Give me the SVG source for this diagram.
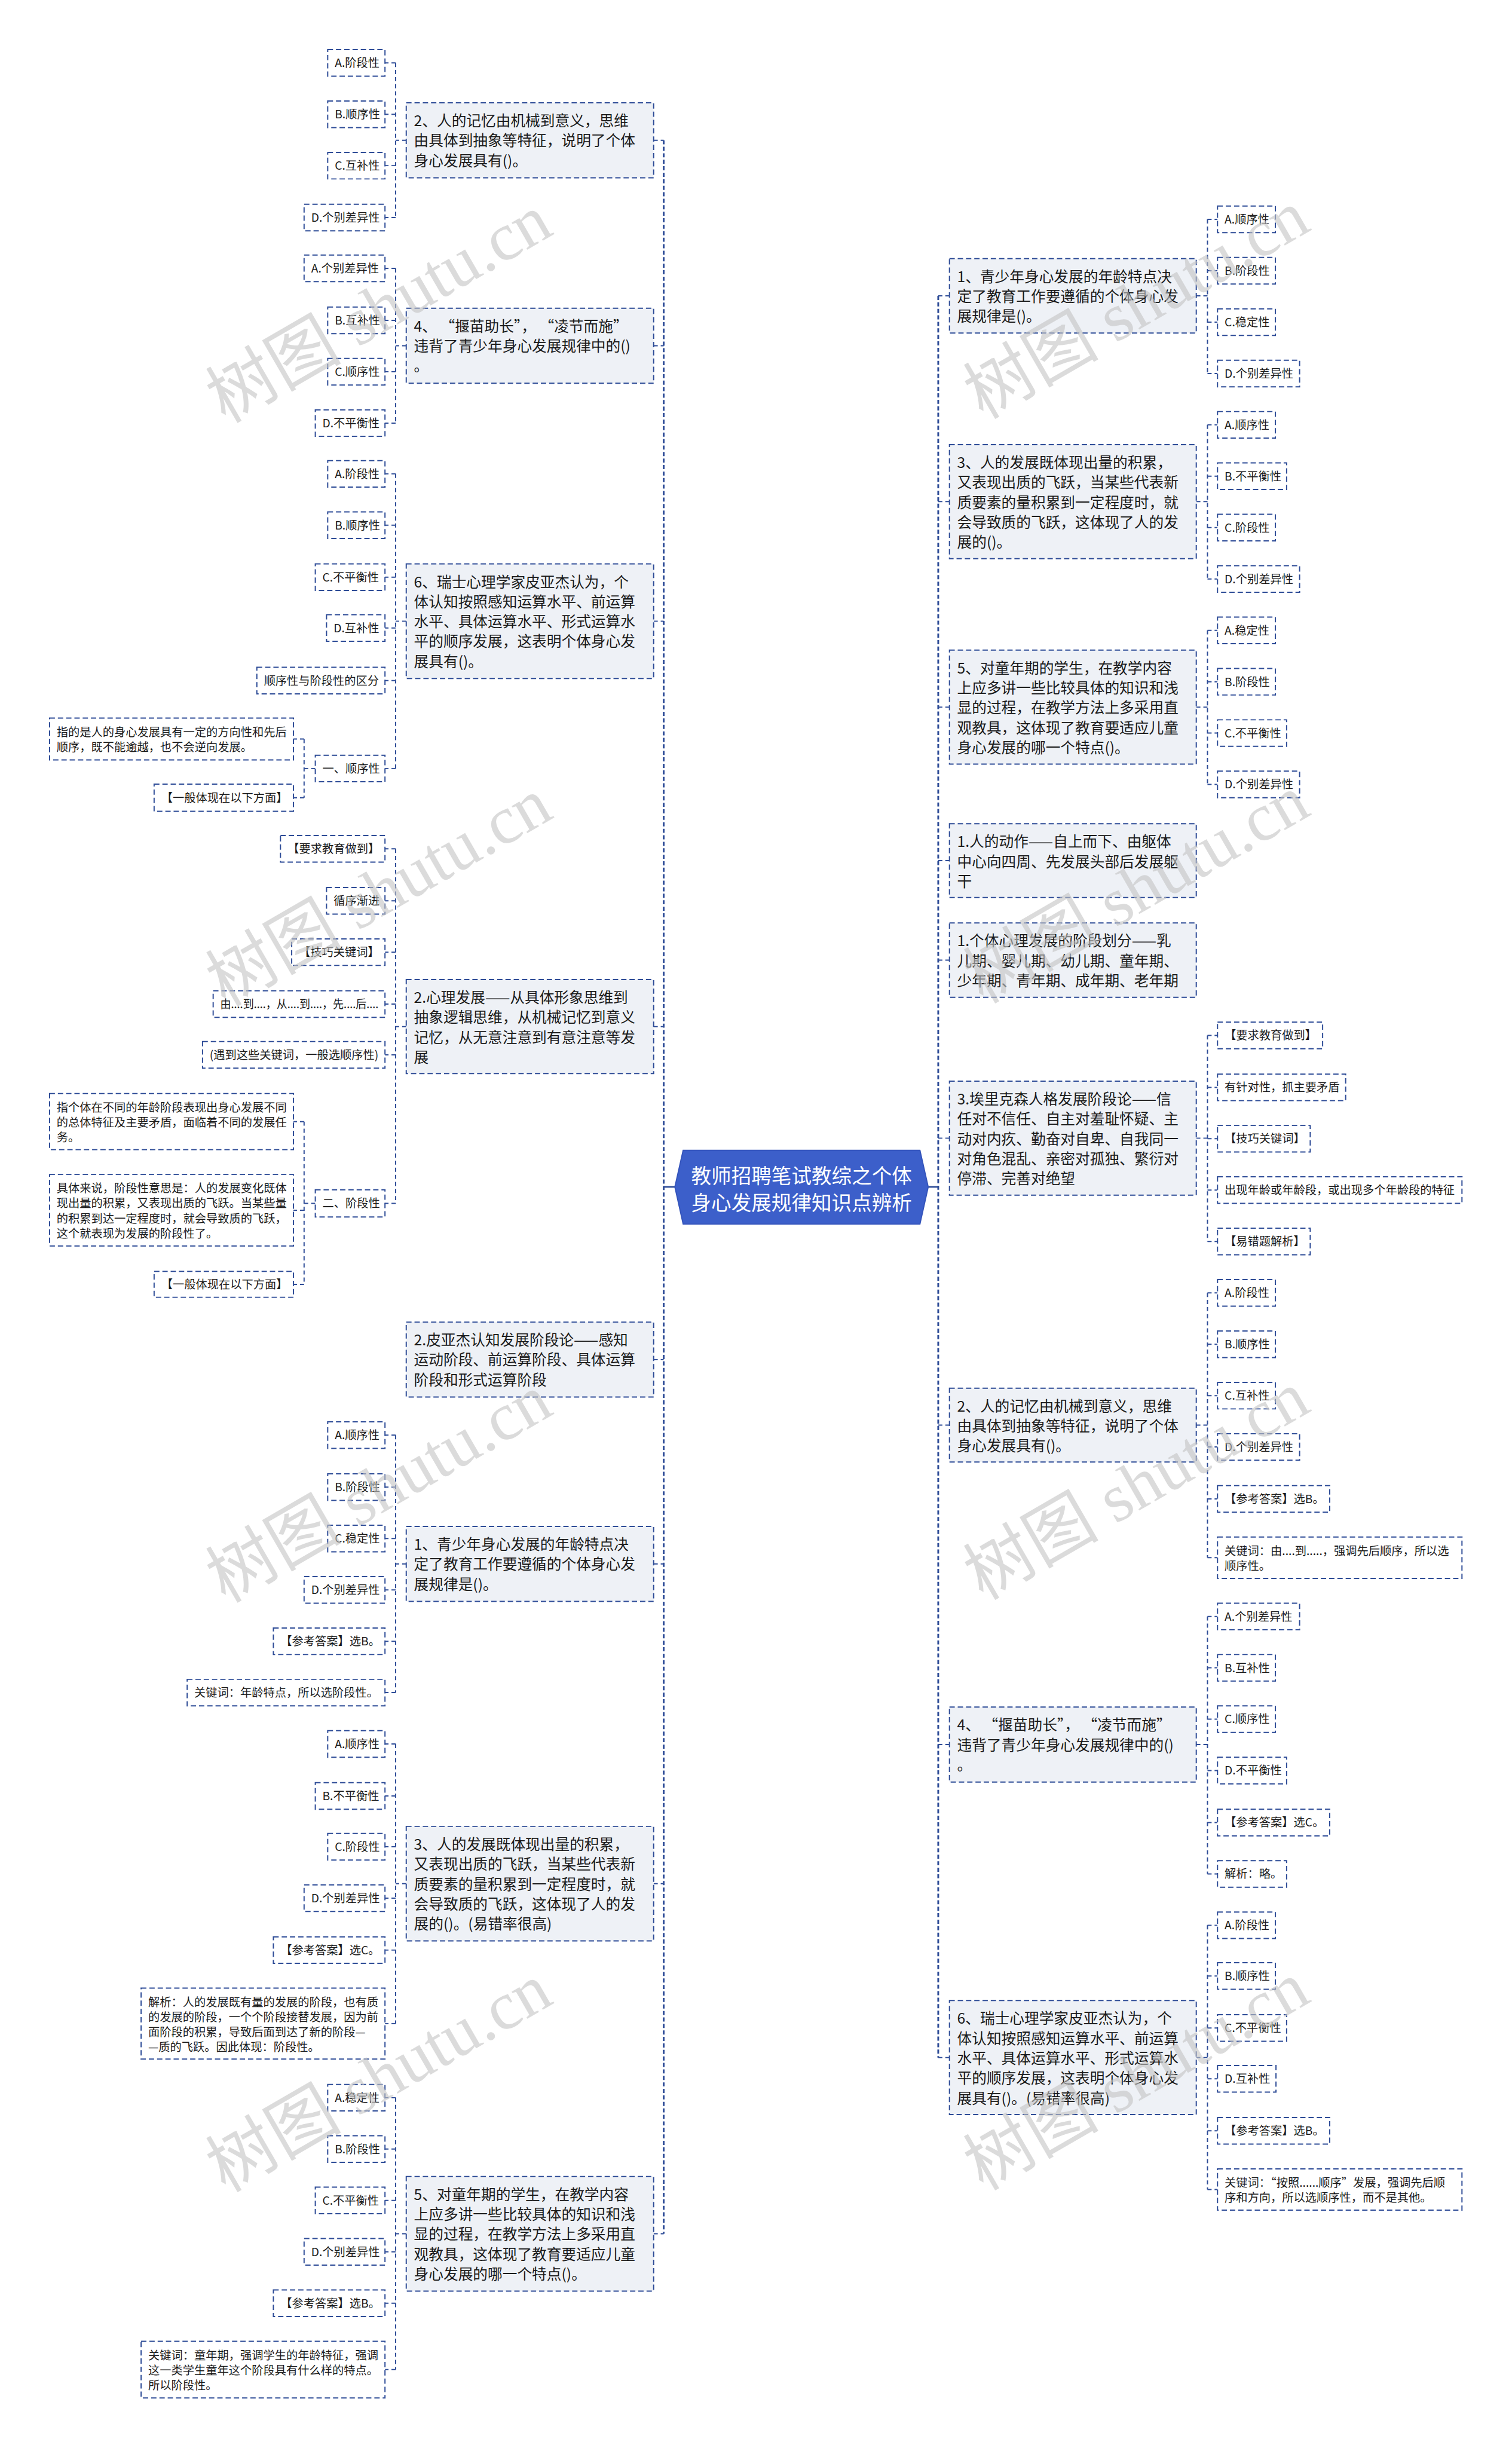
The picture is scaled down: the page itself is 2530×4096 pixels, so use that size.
<svg xmlns="http://www.w3.org/2000/svg" width="2530" height="4096" viewBox="0 0 2530 4096">
<style>
.q{fill:#eef1f6;stroke:#2e4c97;stroke-width:2;stroke-dasharray:9 5}
.o{fill:#ffffff;stroke:#2e4c97;stroke-width:2;stroke-dasharray:9 5}
.c{fill:none;stroke:#2e4c97;stroke-width:2;stroke-dasharray:7 5}
.tr{fill:none;stroke:#2e4c97;stroke-width:3;stroke-dasharray:7 4}
.sl{fill:none;stroke:#2e4c97;stroke-width:3}
text{font-family:"Noto Sans CJK SC","Noto Sans",sans-serif;fill:#1a1a1a}
.t1{font-size:25px}
.t2{font-size:19.5px}
.tc{font-size:34px;fill:#ffffff;text-anchor:middle}
.wm{font-family:"Liberation Serif","Noto Sans CJK SC",serif;font-size:115px;fill:#c4c4c4;opacity:0.6;text-anchor:middle}
</style>
<rect width="2530" height="4096" fill="#ffffff"/>
<g transform="scale(0.988)">
<g id="connectors">
<!-- trunks -->
<path class="tr" d="M1124 237.5V3783"/>
<path class="tr" d="M1589 501V3484.5"/>
<path class="sl" d="M1143 2010H1124M1572 2010H1589"/>
<path class="c" d="M1107 237.5H1124M1107 585.5H1124M1107 1052H1124M1107 1738.5H1124M1107 2302.5H1124M1107 2648.5H1124M1107 3190H1124M1107 3783H1124"/>
<path class="c" d="M1589 501H1608M1589 849.5H1608M1589 1197.5H1608M1589 1457.5H1608M1589 1626H1608M1589 1927.5H1608M1589 2413.5H1608M1589 2954.5H1608M1589 3484.5H1608"/>
<!-- left branches -->
<path class="c" d="M688 237.5H670M670 106.5V368.5M670 106.5H652M670 193.5H652M670 280.5H652M670 368.5H652"/>
<path class="c" d="M688 585.5H670M670 454.5V716.5M670 454.5H652M670 542.5H652M670 629.5H652M670 716.5H652"/>
<path class="c" d="M688 1052H670M670 802.5V1301.5M670 802.5H652M670 889.5H652M670 977.5H652M670 1063.5H652M670 1152.5H652M670 1301.5H652"/>
<path class="c" d="M534 1301.5H515M515 1251.5V1351M515 1251.5H497M515 1351H497"/>
<path class="c" d="M688 1738.5H670M670 1437.5V2038M670 1437.5H652M670 1525.5H652M670 1612.5H652M670 1700.5H652M670 1786.5H652M670 2038H652"/>
<path class="c" d="M534 2038H515M515 1899.5V2175M515 1899.5H497M515 2049.5H497M515 2175H497"/>
<path class="c" d="M688 2648.5H670M670 2430.5V2866.5M670 2430.5H652M670 2518.5H652M670 2605.5H652M670 2692.5H652M670 2779.5H652M670 2866.5H652"/>
<path class="c" d="M688 3190H670M670 2953.5V3427M670 2953.5H652M670 3041.5H652M670 3127.5H652M670 3214.5H652M670 3302.5H652M670 3427H652"/>
<path class="c" d="M688 3783H670M670 3552.5V4013M670 3552.5H652M670 3639.5H652M670 3726.5H652M670 3813.5H652M670 3900.5H652M670 4013H652"/>
<!-- right branches -->
<path class="c" d="M2026 501H2045M2045 371.5V632.5M2045 371.5H2062M2045 458.5H2062M2045 545.5H2062M2045 632.5H2062"/>
<path class="c" d="M2026 849.5H2045M2045 719.5V980.5M2045 719.5H2062M2045 806.5H2062M2045 893.5H2062M2045 980.5H2062"/>
<path class="c" d="M2026 1197.5H2045M2045 1067.5V1328.5M2045 1067.5H2062M2045 1154.5H2062M2045 1241.5H2062M2045 1328.5H2062"/>
<path class="c" d="M2026 1927.5H2045M2045 1753.5V2102.5M2045 1753.5H2062M2045 1841.5H2062M2045 1928.5H2062M2045 2015.5H2062M2045 2102.5H2062"/>
<path class="c" d="M2026 2413.5H2045M2045 2189.5V2638M2045 2189.5H2062M2045 2276.5H2062M2045 2363.5H2062M2045 2450.5H2062M2045 2538.5H2062M2045 2638H2062"/>
<path class="c" d="M2026 2954.5H2045M2045 2737.5V3173.5M2045 2737.5H2062M2045 2824.5H2062M2045 2911.5H2062M2045 2998.5H2062M2045 3086.5H2062M2045 3173.5H2062"/>
<path class="c" d="M2026 3484.5H2045M2045 3260.5V3708M2045 3260.5H2062M2045 3346.5H2062M2045 3434.5H2062M2045 3520.5H2062M2045 3608.5H2062M2045 3708H2062"/>
</g>

<g id="center">
<polygon points="1143,2010 1157,1948 1558,1948 1572,2010 1558,2073 1157,2073" fill="#3c5fca" stroke="#3454bb" stroke-width="2"/>
<text class="tc" x="1357.5" y="2004">教师招聘笔试教综之个体</text>
<text class="tc" x="1357.5" y="2050">身心发展规律知识点辨析</text>
</g>

<!-- LEFT SIDE -->
<g id="L1">
<rect class="q" x="688" y="174" width="419" height="127"/>
<text class="t1"><tspan x="701" y="213.5">2、人的记忆由机械到意义，思维</tspan><tspan x="701" y="247.2">由具体到抽象等特征，说明了个体</tspan><tspan x="701" y="280.9">身心发展具有()。</tspan></text>
</g>
<g id="L1a"><rect class="o" x="555" y="84" width="97" height="45"/><text class="t2" x="567" y="113.5">A.阶段性</text></g>
<g id="L1b"><rect class="o" x="555" y="171" width="97" height="45"/><text class="t2" x="567" y="200.5">B.顺序性</text></g>
<g id="L1c"><rect class="o" x="555" y="258" width="97" height="45"/><text class="t2" x="567" y="287.5">C.互补性</text></g>
<g id="L1d"><rect class="o" x="515" y="346" width="137" height="45"/><text class="t2" x="527" y="375.5">D.个别差异性</text></g>

<g id="L2">
<rect class="q" x="688" y="522" width="419" height="127"/>
<text class="t1"><tspan x="701" y="561.5">4、 “揠苗助长”， “凌节而施”</tspan><tspan x="701" y="595.2">违背了青少年身心发展规律中的()</tspan><tspan x="701" y="628.9">。</tspan></text>
</g>
<g id="L2a"><rect class="o" x="515" y="432" width="137" height="45"/><text class="t2" x="527" y="461.5">A.个别差异性</text></g>
<g id="L2b"><rect class="o" x="555" y="520" width="97" height="45"/><text class="t2" x="567" y="549.5">B.互补性</text></g>
<g id="L2c"><rect class="o" x="555" y="607" width="97" height="45"/><text class="t2" x="567" y="636.5">C.顺序性</text></g>
<g id="L2d"><rect class="o" x="534" y="694" width="118" height="45"/><text class="t2" x="546" y="723.5">D.不平衡性</text></g>

<g id="L3">
<rect class="q" x="688" y="955" width="419" height="194"/>
<text class="t1"><tspan x="701" y="994.5">6、瑞士心理学家皮亚杰认为，个</tspan><tspan x="701" y="1028.2">体认知按照感知运算水平、前运算</tspan><tspan x="701" y="1061.9">水平、具体运算水平、形式运算水</tspan><tspan x="701" y="1095.6">平的顺序发展，这表明个体身心发</tspan><tspan x="701" y="1129.3">展具有()。</tspan></text>
</g>
<g id="L3a"><rect class="o" x="555" y="780" width="97" height="45"/><text class="t2" x="567" y="809.5">A.阶段性</text></g>
<g id="L3b"><rect class="o" x="555" y="867" width="97" height="45"/><text class="t2" x="567" y="896.5">B.顺序性</text></g>
<g id="L3c"><rect class="o" x="534" y="955" width="118" height="45"/><text class="t2" x="546" y="984.5">C.不平衡性</text></g>
<g id="L3d"><rect class="o" x="553" y="1041" width="99" height="45"/><text class="t2" x="565" y="1070.5">D.互补性</text></g>
<g id="L3e"><rect class="o" x="435" y="1130" width="217" height="45"/><text class="t2" x="447" y="1159.5">顺序性与阶段性的区分</text></g>
<g id="L3f"><rect class="o" x="534" y="1279" width="118" height="45"/><text class="t2" x="546" y="1308.5">一、顺序性</text></g>
<g id="L3f1"><rect class="o" x="84" y="1216" width="413" height="71"/><text class="t2"><tspan x="96" y="1246.5">指的是人的身心发展具有一定的方向性和先后</tspan><tspan x="96" y="1272">顺序，既不能逾越，也不会逆向发展。</tspan></text></g>
<g id="L3f2"><rect class="o" x="261" y="1328" width="236" height="46"/><text class="t2" x="273" y="1358">【一般体现在以下方面】</text></g>

<g id="L4">
<rect class="q" x="688" y="1659" width="419" height="159"/>
<text class="t1"><tspan x="701" y="1698.5">2.心理发展——从具体形象思维到</tspan><tspan x="701" y="1732.2">抽象逻辑思维，从机械记忆到意义</tspan><tspan x="701" y="1765.9">记忆，从无意注意到有意注意等发</tspan><tspan x="701" y="1799.6">展</tspan></text>
</g>
<g id="L4a"><rect class="o" x="475" y="1415" width="177" height="45"/><text class="t2" x="487" y="1444.5">【要求教育做到】</text></g>
<g id="L4b"><rect class="o" x="553" y="1503" width="99" height="45"/><text class="t2" x="565" y="1532.5">循序渐进</text></g>
<g id="L4c"><rect class="o" x="494" y="1590" width="158" height="45"/><text class="t2" x="506" y="1619.5">【技巧关键词】</text></g>
<g id="L4d"><rect class="o" x="361" y="1678" width="291" height="45"/><text class="t2" x="373" y="1707.5" textLength="268" lengthAdjust="spacingAndGlyphs">由....到....，从....到....，先....后....</text></g>
<g id="L4e"><rect class="o" x="343" y="1764" width="309" height="45"/><text class="t2" x="355" y="1793.5">(遇到这些关键词，一般选顺序性)</text></g>
<g id="L4f"><rect class="o" x="534" y="2015" width="118" height="46"/><text class="t2" x="546" y="2045">二、阶段性</text></g>
<g id="L4f1"><rect class="o" x="84" y="1852" width="413" height="95"/><text class="t2"><tspan x="96" y="1882.5">指个体在不同的年龄阶段表现出身心发展不同</tspan><tspan x="96" y="1908">的总体特征及主要矛盾，面临着不同的发展任</tspan><tspan x="96" y="1933.5">务。</tspan></text></g>
<g id="L4f2"><rect class="o" x="84" y="1989" width="413" height="121"/><text class="t2"><tspan x="96" y="2019.5">具体来说，阶段性意思是：人的发展变化既体</tspan><tspan x="96" y="2045">现出量的积累，又表现出质的飞跃。当某些量</tspan><tspan x="96" y="2070.5">的积累到达一定程度时，就会导致质的飞跃，</tspan><tspan x="96" y="2096">这个就表现为发展的阶段性了。</tspan></text></g>
<g id="L4f3"><rect class="o" x="261" y="2153" width="236" height="44"/><text class="t2" x="273" y="2182">【一般体现在以下方面】</text></g>

<g id="L5">
<rect class="q" x="688" y="2239" width="419" height="127"/>
<text class="t1"><tspan x="701" y="2278.5">2.皮亚杰认知发展阶段论——感知</tspan><tspan x="701" y="2312.2">运动阶段、前运算阶段、具体运算</tspan><tspan x="701" y="2345.9">阶段和形式运算阶段</tspan></text>
</g>

<g id="L6">
<rect class="q" x="688" y="2585" width="419" height="127"/>
<text class="t1"><tspan x="701" y="2624.5">1、青少年身心发展的年龄特点决</tspan><tspan x="701" y="2658.2">定了教育工作要遵循的个体身心发</tspan><tspan x="701" y="2691.9">展规律是()。</tspan></text>
</g>
<g id="L6a"><rect class="o" x="555" y="2408" width="97" height="45"/><text class="t2" x="567" y="2437.5">A.顺序性</text></g>
<g id="L6b"><rect class="o" x="555" y="2496" width="97" height="45"/><text class="t2" x="567" y="2525.5">B.阶段性</text></g>
<g id="L6c"><rect class="o" x="555" y="2583" width="97" height="45"/><text class="t2" x="567" y="2612.5">C.稳定性</text></g>
<g id="L6d"><rect class="o" x="515" y="2670" width="137" height="45"/><text class="t2" x="527" y="2699.5">D.个别差异性</text></g>
<g id="L6e"><rect class="o" x="463" y="2757" width="189" height="45"/><text class="t2" x="475" y="2786.5">【参考答案】选B。</text></g>
<g id="L6f"><rect class="o" x="317" y="2844" width="335" height="45"/><text class="t2" x="329" y="2873.5">关键词：年龄特点，所以选阶段性。</text></g>

<g id="L7">
<rect class="q" x="688" y="3093" width="419" height="194"/>
<text class="t1"><tspan x="701" y="3132.5">3、人的发展既体现出量的积累，</tspan><tspan x="701" y="3166.2">又表现出质的飞跃，当某些代表新</tspan><tspan x="701" y="3199.9">质要素的量积累到一定程度时，就</tspan><tspan x="701" y="3233.6">会导致质的飞跃，这体现了人的发</tspan><tspan x="701" y="3267.3">展的()。(易错率很高)</tspan></text>
</g>
<g id="L7a"><rect class="o" x="555" y="2931" width="97" height="45"/><text class="t2" x="567" y="2960.5">A.顺序性</text></g>
<g id="L7b"><rect class="o" x="534" y="3019" width="118" height="45"/><text class="t2" x="546" y="3048.5">B.不平衡性</text></g>
<g id="L7c"><rect class="o" x="555" y="3105" width="97" height="45"/><text class="t2" x="567" y="3134.5">C.阶段性</text></g>
<g id="L7d"><rect class="o" x="515" y="3192" width="137" height="45"/><text class="t2" x="527" y="3221.5">D.个别差异性</text></g>
<g id="L7e"><rect class="o" x="463" y="3280" width="189" height="45"/><text class="t2" x="475" y="3309.5">【参考答案】选C。</text></g>
<g id="L7f"><rect class="o" x="239" y="3367" width="413" height="120"/><text class="t2"><tspan x="251" y="3397.5">解析：人的发展既有量的发展的阶段，也有质</tspan><tspan x="251" y="3423">的发展的阶段，一个个阶段接替发展，因为前</tspan><tspan x="251" y="3448.5">面阶段的积累，导致后面到达了新的阶段—</tspan><tspan x="251" y="3474">—质的飞跃。因此体现：阶段性。</tspan></text></g>

<g id="L8">
<rect class="q" x="688" y="3686" width="419" height="194"/>
<text class="t1"><tspan x="701" y="3725.5">5、对童年期的学生，在教学内容</tspan><tspan x="701" y="3759.2">上应多讲一些比较具体的知识和浅</tspan><tspan x="701" y="3792.9">显的过程，在教学方法上多采用直</tspan><tspan x="701" y="3826.6">观教具，这体现了教育要适应儿童</tspan><tspan x="701" y="3860.3">身心发展的哪一个特点()。</tspan></text>
</g>
<g id="L8a"><rect class="o" x="555" y="3530" width="97" height="45"/><text class="t2" x="567" y="3559.5">A.稳定性</text></g>
<g id="L8b"><rect class="o" x="555" y="3617" width="97" height="45"/><text class="t2" x="567" y="3646.5">B.阶段性</text></g>
<g id="L8c"><rect class="o" x="534" y="3704" width="118" height="45"/><text class="t2" x="546" y="3733.5">C.不平衡性</text></g>
<g id="L8d"><rect class="o" x="515" y="3791" width="137" height="45"/><text class="t2" x="527" y="3820.5">D.个别差异性</text></g>
<g id="L8e"><rect class="o" x="463" y="3878" width="189" height="45"/><text class="t2" x="475" y="3907.5">【参考答案】选B。</text></g>
<g id="L8f"><rect class="o" x="239" y="3965" width="413" height="96"/><text class="t2"><tspan x="251" y="3995.5">关键词：童年期，强调学生的年龄特征，强调</tspan><tspan x="251" y="4021">这一类学生童年这个阶段具有什么样的特点。</tspan><tspan x="251" y="4046.5">所以阶段性。</tspan></text></g>

<!-- RIGHT SIDE -->
<g id="R1">
<rect class="q" x="1608" y="438" width="418" height="126"/>
<text class="t1"><tspan x="1621" y="477.5">1、青少年身心发展的年龄特点决</tspan><tspan x="1621" y="511.2">定了教育工作要遵循的个体身心发</tspan><tspan x="1621" y="544.9">展规律是()。</tspan></text>
</g>
<g id="R1a"><rect class="o" x="2062" y="349" width="98" height="45"/><text class="t2" x="2074" y="378.5">A.顺序性</text></g>
<g id="R1b"><rect class="o" x="2062" y="436" width="98" height="45"/><text class="t2" x="2074" y="465.5">B.阶段性</text></g>
<g id="R1c"><rect class="o" x="2062" y="523" width="98" height="45"/><text class="t2" x="2074" y="552.5">C.稳定性</text></g>
<g id="R1d"><rect class="o" x="2062" y="610" width="139" height="45"/><text class="t2" x="2074" y="639.5">D.个别差异性</text></g>

<g id="R2">
<rect class="q" x="1608" y="753" width="418" height="193"/>
<text class="t1"><tspan x="1621" y="792.5">3、人的发展既体现出量的积累，</tspan><tspan x="1621" y="826.2">又表现出质的飞跃，当某些代表新</tspan><tspan x="1621" y="859.9">质要素的量积累到一定程度时，就</tspan><tspan x="1621" y="893.6">会导致质的飞跃，这体现了人的发</tspan><tspan x="1621" y="927.3">展的()。</tspan></text>
</g>
<g id="R2a"><rect class="o" x="2062" y="697" width="98" height="45"/><text class="t2" x="2074" y="726.5">A.顺序性</text></g>
<g id="R2b"><rect class="o" x="2062" y="784" width="117" height="45"/><text class="t2" x="2074" y="813.5">B.不平衡性</text></g>
<g id="R2c"><rect class="o" x="2062" y="871" width="98" height="45"/><text class="t2" x="2074" y="900.5">C.阶段性</text></g>
<g id="R2d"><rect class="o" x="2062" y="958" width="139" height="45"/><text class="t2" x="2074" y="987.5">D.个别差异性</text></g>

<g id="R3">
<rect class="q" x="1608" y="1101" width="418" height="193"/>
<text class="t1"><tspan x="1621" y="1140.5">5、对童年期的学生，在教学内容</tspan><tspan x="1621" y="1174.2">上应多讲一些比较具体的知识和浅</tspan><tspan x="1621" y="1207.9">显的过程，在教学方法上多采用直</tspan><tspan x="1621" y="1241.6">观教具，这体现了教育要适应儿童</tspan><tspan x="1621" y="1275.3">身心发展的哪一个特点()。</tspan></text>
</g>
<g id="R3a"><rect class="o" x="2062" y="1045" width="98" height="45"/><text class="t2" x="2074" y="1074.5">A.稳定性</text></g>
<g id="R3b"><rect class="o" x="2062" y="1132" width="98" height="45"/><text class="t2" x="2074" y="1161.5">B.阶段性</text></g>
<g id="R3c"><rect class="o" x="2062" y="1219" width="117" height="45"/><text class="t2" x="2074" y="1248.5">C.不平衡性</text></g>
<g id="R3d"><rect class="o" x="2062" y="1306" width="139" height="45"/><text class="t2" x="2074" y="1335.5">D.个别差异性</text></g>

<g id="R4">
<rect class="q" x="1608" y="1395" width="418" height="125"/>
<text class="t1"><tspan x="1621" y="1434.5">1.人的动作——自上而下、由躯体</tspan><tspan x="1621" y="1468.2">中心向四周、先发展头部后发展躯</tspan><tspan x="1621" y="1501.9">干</tspan></text>
</g>
<g id="R5">
<rect class="q" x="1608" y="1563" width="418" height="126"/>
<text class="t1"><tspan x="1621" y="1602.5">1.个体心理发展的阶段划分——乳</tspan><tspan x="1621" y="1636.2">儿期、婴儿期、幼儿期、童年期、</tspan><tspan x="1621" y="1669.9">少年期、青年期、成年期、老年期</tspan></text>
</g>

<g id="R6">
<rect class="q" x="1608" y="1831" width="418" height="193"/>
<text class="t1"><tspan x="1621" y="1870.5">3.埃里克森人格发展阶段论——信</tspan><tspan x="1621" y="1904.2">任对不信任、自主对羞耻怀疑、主</tspan><tspan x="1621" y="1937.9">动对内疚、勤奋对自卑、自我同一</tspan><tspan x="1621" y="1971.6">对角色混乱、亲密对孤独、繁衍对</tspan><tspan x="1621" y="2005.3">停滞、完善对绝望</tspan></text>
</g>
<g id="R6a"><rect class="o" x="2062" y="1731" width="178" height="45"/><text class="t2" x="2074" y="1760.5">【要求教育做到】</text></g>
<g id="R6b"><rect class="o" x="2062" y="1819" width="217" height="45"/><text class="t2" x="2074" y="1848.5">有针对性，抓主要矛盾</text></g>
<g id="R6c"><rect class="o" x="2062" y="1906" width="157" height="45"/><text class="t2" x="2074" y="1935.5">【技巧关键词】</text></g>
<g id="R6d"><rect class="o" x="2062" y="1993" width="414" height="45"/><text class="t2" x="2074" y="2022.5">出现年龄或年龄段，或出现多个年龄段的特征</text></g>
<g id="R6e"><rect class="o" x="2062" y="2080" width="157" height="45"/><text class="t2" x="2074" y="2109.5">【易错题解析】</text></g>

<g id="R7">
<rect class="q" x="1608" y="2351" width="418" height="125"/>
<text class="t1"><tspan x="1621" y="2390.5">2、人的记忆由机械到意义，思维</tspan><tspan x="1621" y="2424.2">由具体到抽象等特征，说明了个体</tspan><tspan x="1621" y="2457.9">身心发展具有()。</tspan></text>
</g>
<g id="R7a"><rect class="o" x="2062" y="2167" width="98" height="45"/><text class="t2" x="2074" y="2196.5">A.阶段性</text></g>
<g id="R7b"><rect class="o" x="2062" y="2254" width="98" height="45"/><text class="t2" x="2074" y="2283.5">B.顺序性</text></g>
<g id="R7c"><rect class="o" x="2062" y="2341" width="98" height="45"/><text class="t2" x="2074" y="2370.5">C.互补性</text></g>
<g id="R7d"><rect class="o" x="2062" y="2428" width="139" height="45"/><text class="t2" x="2074" y="2457.5">D.个别差异性</text></g>
<g id="R7e"><rect class="o" x="2062" y="2516" width="190" height="45"/><text class="t2" x="2074" y="2545.5">【参考答案】选B。</text></g>
<g id="R7f"><rect class="o" x="2062" y="2603" width="414" height="70"/><text class="t2"><tspan x="2074" y="2633.5">关键词：由....到.....，强调先后顺序，所以选</tspan><tspan x="2074" y="2659">顺序性。</tspan></text></g>

<g id="R8">
<rect class="q" x="1608" y="2891" width="418" height="127"/>
<text class="t1"><tspan x="1621" y="2930.5">4、 “揠苗助长”， “凌节而施”</tspan><tspan x="1621" y="2964.2">违背了青少年身心发展规律中的()</tspan><tspan x="1621" y="2997.9">。</tspan></text>
</g>
<g id="R8a"><rect class="o" x="2062" y="2715" width="139" height="45"/><text class="t2" x="2074" y="2744.5">A.个别差异性</text></g>
<g id="R8b"><rect class="o" x="2062" y="2802" width="98" height="45"/><text class="t2" x="2074" y="2831.5">B.互补性</text></g>
<g id="R8c"><rect class="o" x="2062" y="2889" width="98" height="45"/><text class="t2" x="2074" y="2918.5">C.顺序性</text></g>
<g id="R8d"><rect class="o" x="2062" y="2976" width="117" height="45"/><text class="t2" x="2074" y="3005.5">D.不平衡性</text></g>
<g id="R8e"><rect class="o" x="2062" y="3064" width="190" height="45"/><text class="t2" x="2074" y="3093.5">【参考答案】选C。</text></g>
<g id="R8f"><rect class="o" x="2062" y="3151" width="117" height="45"/><text class="t2" x="2074" y="3180.5">解析：略。</text></g>

<g id="R9">
<rect class="q" x="1608" y="3388" width="418" height="193"/>
<text class="t1"><tspan x="1621" y="3427.5">6、瑞士心理学家皮亚杰认为，个</tspan><tspan x="1621" y="3461.2">体认知按照感知运算水平、前运算</tspan><tspan x="1621" y="3494.9">水平、具体运算水平、形式运算水</tspan><tspan x="1621" y="3528.6">平的顺序发展，这表明个体身心发</tspan><tspan x="1621" y="3562.3">展具有()。(易错率很高)</tspan></text>
</g>
<g id="R9a"><rect class="o" x="2062" y="3238" width="98" height="45"/><text class="t2" x="2074" y="3267.5">A.阶段性</text></g>
<g id="R9b"><rect class="o" x="2062" y="3324" width="98" height="45"/><text class="t2" x="2074" y="3353.5">B.顺序性</text></g>
<g id="R9c"><rect class="o" x="2062" y="3412" width="117" height="45"/><text class="t2" x="2074" y="3441.5">C.不平衡性</text></g>
<g id="R9d"><rect class="o" x="2062" y="3498" width="99" height="45"/><text class="t2" x="2074" y="3527.5">D.互补性</text></g>
<g id="R9e"><rect class="o" x="2062" y="3586" width="190" height="45"/><text class="t2" x="2074" y="3615.5">【参考答案】选B。</text></g>
<g id="R9f"><rect class="o" x="2062" y="3673" width="414" height="70"/><text class="t2"><tspan x="2074" y="3703.5">关键词：“按照......顺序”发展，强调先后顺</tspan><tspan x="2074" y="3729">序和方向，所以选顺序性，而不是其他。</tspan></text></g>

<g id="watermark">
<text class="wm" transform="translate(641,522) rotate(-30)" x="0" y="40">树图 shutu.cn</text>
<text class="wm" transform="translate(641,1510) rotate(-30)" x="0" y="40">树图 shutu.cn</text>
<text class="wm" transform="translate(641,2520) rotate(-30)" x="0" y="40">树图 shutu.cn</text>
<text class="wm" transform="translate(641,3518) rotate(-30)" x="0" y="40">树图 shutu.cn</text>
<text class="wm" transform="translate(1924,515) rotate(-30)" x="0" y="40">树图 shutu.cn</text>
<text class="wm" transform="translate(1924,1505) rotate(-30)" x="0" y="40">树图 shutu.cn</text>
<text class="wm" transform="translate(1924,2515) rotate(-30)" x="0" y="40">树图 shutu.cn</text>
<text class="wm" transform="translate(1924,3515) rotate(-30)" x="0" y="40">树图 shutu.cn</text>
</g>
</g>
</svg>
